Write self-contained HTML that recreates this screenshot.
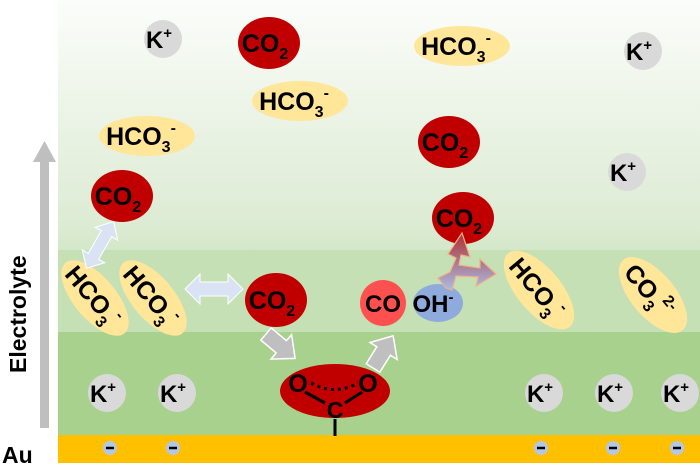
<!DOCTYPE html>
<html><head><meta charset="utf-8"><style>
html,body{margin:0;padding:0;background:#fff;}
svg{display:block;font-family:"Liberation Sans",Arial,sans-serif;font-weight:bold;}
</style></head><body>
<svg width="700" height="468" viewBox="0 0 700 468" xmlns="http://www.w3.org/2000/svg">
<defs>
<linearGradient id="top" x1="0" y1="0" x2="0" y2="1">
<stop offset="0" stop-color="#fbfdfa"/><stop offset="0.9" stop-color="#dcebd3"/><stop offset="1" stop-color="#d3e7c8"/>
</linearGradient>
<linearGradient id="tri" x1="0" y1="0" x2="0" y2="1">
<stop offset="0" stop-color="#b03030"/><stop offset="1" stop-color="#a8bde6"/>
</linearGradient>
</defs>
<rect x="58" y="0" width="642" height="252" fill="url(#top)"/>
<rect x="58" y="250" width="642" height="83" fill="#c5e0b4"/>
<rect x="58" y="332" width="642" height="104" fill="#a9d18e"/>
<rect x="58" y="435" width="642" height="28" fill="#ffc000"/>
<!-- side arrow -->
<rect x="40" y="160" width="9" height="268" fill="#bfbfbf"/>
<polygon points="44.5,141 33,162 56,162" fill="#bfbfbf"/>
<text x="0" y="0" transform="translate(26,373) rotate(-90)" font-size="23" fill="#000">Electrolyte</text>
<text x="2" y="463" font-size="23">Au</text>

<g font-size="25" text-anchor="middle">
<!-- K+ -->
<g fill="#d9d9d9">
<circle cx="163" cy="39" r="19"/><circle cx="643" cy="51" r="19"/><circle cx="627" cy="172" r="19"/>
<circle cx="107" cy="393" r="19"/><circle cx="177" cy="393" r="19"/><circle cx="544" cy="393" r="19"/>
<circle cx="614" cy="393" r="19"/><circle cx="680" cy="393" r="19"/>
</g>
<g font-size="24">
<text x="159" y="48">K<tspan font-size="15" dy="-10">+</tspan></text>
<text x="639" y="60">K<tspan font-size="15" dy="-10">+</tspan></text>
<text x="623" y="181">K<tspan font-size="15" dy="-10">+</tspan></text>
<text x="103" y="402">K<tspan font-size="15" dy="-10">+</tspan></text>
<text x="173" y="402">K<tspan font-size="15" dy="-10">+</tspan></text>
<text x="540" y="402">K<tspan font-size="15" dy="-10">+</tspan></text>
<text x="610" y="402">K<tspan font-size="15" dy="-10">+</tspan></text>
<text x="676" y="402">K<tspan font-size="15" dy="-10">+</tspan></text>
</g>
<!-- HCO3 -->
<g fill="#ffe699">
<ellipse cx="462" cy="46" rx="48" ry="20"/><ellipse cx="300" cy="101" rx="48" ry="20"/><ellipse cx="147" cy="136" rx="48" ry="20"/>
<ellipse cx="95" cy="298" rx="21" ry="46" transform="rotate(-40 95 298)"/>
<ellipse cx="153" cy="298" rx="21" ry="46" transform="rotate(-40 153 298)"/>
<ellipse cx="539" cy="290" rx="22" ry="48" transform="rotate(-40 539 290)"/>
<ellipse cx="653" cy="295" rx="22" ry="46" transform="rotate(-40 653 295)"/>
</g>
<text x="456" y="55">HCO<tspan font-size="16" dy="7">3</tspan><tspan font-size="16" dy="-19">-</tspan></text>
<text x="294" y="110">HCO<tspan font-size="16" dy="7">3</tspan><tspan font-size="16" dy="-19">-</tspan></text>
<text x="141" y="145">HCO<tspan font-size="16" dy="7">3</tspan><tspan font-size="16" dy="-19">-</tspan></text>
<text transform="translate(95,298) rotate(50)" x="-3" y="9">HCO<tspan font-size="16" dy="7">3</tspan><tspan font-size="16" dy="-19">-</tspan></text>
<text transform="translate(153,298) rotate(50)" x="-3" y="9">HCO<tspan font-size="16" dy="7">3</tspan><tspan font-size="16" dy="-19">-</tspan></text>
<text transform="translate(539,290) rotate(50)" x="-3" y="9">HCO<tspan font-size="16" dy="7">3</tspan><tspan font-size="16" dy="-19">-</tspan></text>
<text transform="translate(653,295) rotate(50)" x="-6" y="9">CO<tspan font-size="16" dy="7">3</tspan><tspan font-size="16" dy="-19">2-</tspan></text>
<!-- CO2 -->
<g fill="#c00000">
<ellipse cx="269" cy="43" rx="31" ry="26"/><ellipse cx="449" cy="142" rx="31" ry="26"/>
<ellipse cx="122" cy="196" rx="31" ry="26"/><ellipse cx="463" cy="218" rx="31" ry="26"/>
<ellipse cx="276" cy="300" rx="31" ry="27"/>
<ellipse cx="335" cy="391" rx="55" ry="27"/>
</g>
<text x="265" y="52">CO<tspan font-size="16" dy="7">2</tspan></text>
<text x="445" y="151">CO<tspan font-size="16" dy="7">2</tspan></text>
<text x="118" y="205">CO<tspan font-size="16" dy="7">2</tspan></text>
<text x="459" y="227">CO<tspan font-size="16" dy="7">2</tspan></text>
<text x="272" y="309">CO<tspan font-size="16" dy="7">2</tspan></text>
<!-- CO, OH -->
<circle cx="383" cy="303" r="23" fill="#ff5050"/>
<ellipse cx="438" cy="303" rx="25" ry="19" fill="#8faadc"/>
<text x="383" y="312" font-size="24">CO</text>
<text x="433" y="312" font-size="24">OH<tspan font-size="15" dy="-10">-</tspan></text>
<!-- adsorbed -->
<text x="298" y="392">O</text><text x="368" y="392">O</text><text x="335" y="418" font-size="23">C</text>
</g>
<g stroke="#000" stroke-width="3">
<line x1="305" y1="392" x2="325" y2="403"/><line x1="345" y1="403" x2="362" y2="392"/>
<line x1="335" y1="419" x2="335" y2="436"/>
</g>
<path d="M311 383 Q335 396 358 383" fill="none" stroke="#000" stroke-width="3" stroke-dasharray="3,4"/>
<!-- arrows -->
<g fill="#bfbfbf" stroke="#fff" stroke-width="1.5">
<polygon points="0,-8 20,-8 20,-16 38,0 20,16 20,8 0,8" transform="translate(266,334) rotate(40)"/>
<polygon points="0,-8 20,-8 20,-16 38,0 20,16 20,8 0,8" transform="translate(373,368) rotate(-58)"/>
</g>
<g fill="#dae3f3" stroke="#fff" stroke-width="1">
<polygon points="-29,0 -14,-15 -14,-7 14,-7 14,-15 29,0 14,15 14,7 -14,7 -14,15" transform="translate(214,289)"/>
<polygon points="-27,0 -13,-13 -13,-6 13,-6 13,-13 27,0 13,13 13,6 -13,6 -13,13" transform="translate(100,245) rotate(-60)"/>
</g>
<g fill="url(#tri)" stroke="#f4b183" stroke-width="1.2">
<polygon points="446,288 438,278 450,272 456,258 448,254 462,233 470,257 461,255 459,265 480,268 480,259 496,274 476,286 478,277 456,276 452,290"/>
</g>
<!-- electrons -->
<g fill="#b4c7e7">
<circle cx="110" cy="448" r="7"/><circle cx="173" cy="448" r="7"/><circle cx="541" cy="448" r="7"/>
<circle cx="613" cy="448" r="7"/><circle cx="677" cy="448" r="7"/>
</g>
<g stroke="#000" stroke-width="2.5">
<line x1="106" y1="448" x2="114" y2="448"/><line x1="169" y1="448" x2="177" y2="448"/><line x1="537" y1="448" x2="545" y2="448"/>
<line x1="609" y1="448" x2="617" y2="448"/><line x1="673" y1="448" x2="681" y2="448"/>
</g>
</svg>
</body></html>
